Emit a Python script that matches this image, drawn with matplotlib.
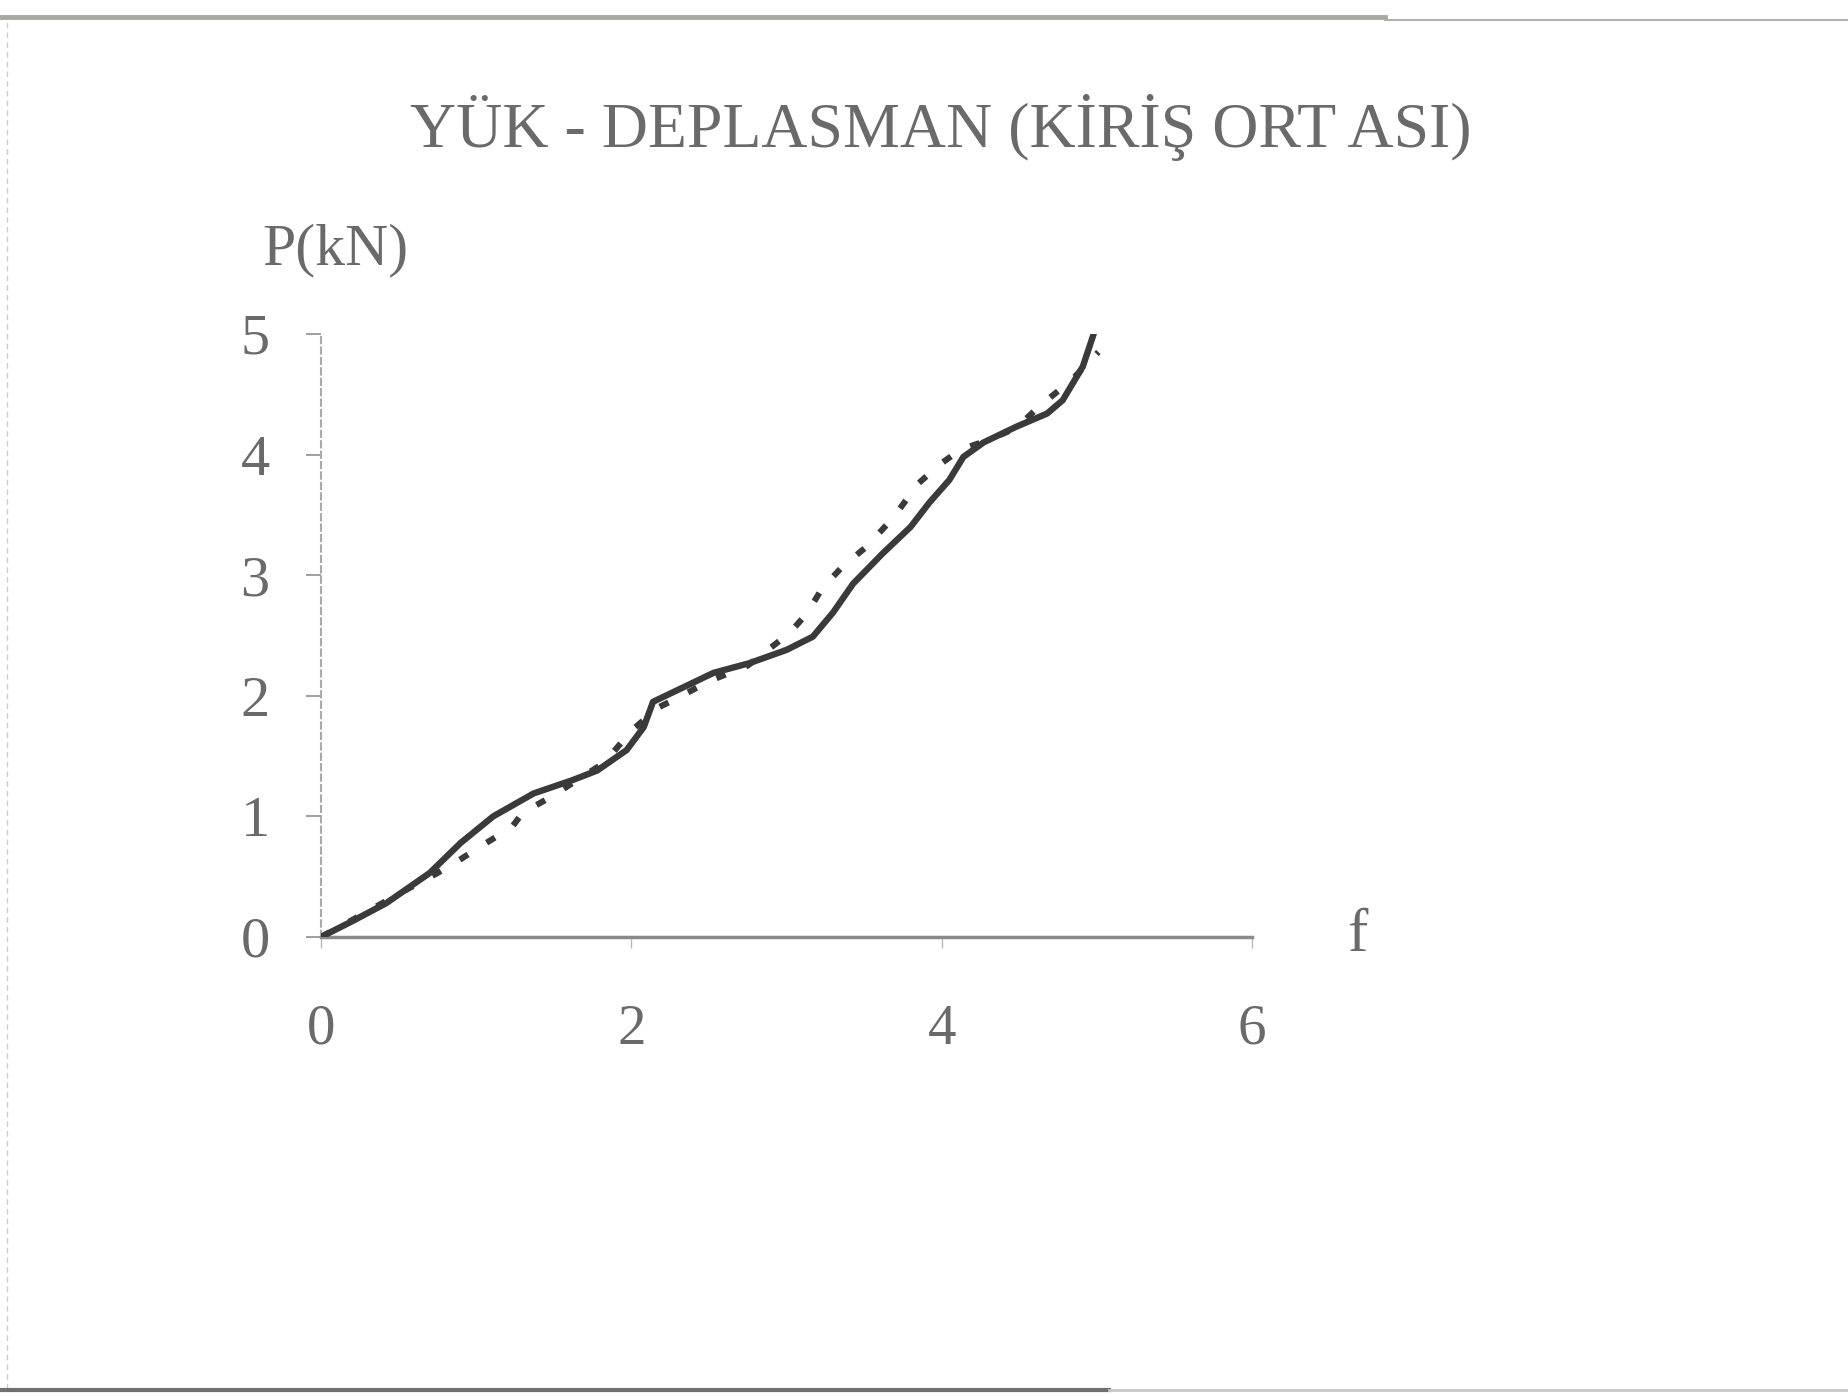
import matplotlib.pyplot as plt
from matplotlib.lines import Line2D

# load - deflection at mid-span
f_solid = [0.0, 0.20, 0.42, 0.70, 0.90, 1.11, 1.37, 1.62, 1.78, 1.97, 2.08, 2.14,
           2.27, 2.53, 2.76, 3.00, 3.17, 3.30, 3.43, 3.62, 3.80, 3.92, 4.05, 4.14,
           4.27, 4.48, 4.68, 4.78, 4.91, 4.98]
p_solid = [0.0, 0.13, 0.28, 0.53, 0.78, 1.00, 1.19, 1.30, 1.38, 1.55, 1.74, 1.95,
           2.03, 2.19, 2.27, 2.38, 2.49, 2.69, 2.93, 3.18, 3.40, 3.60, 3.79, 3.98,
           4.10, 4.23, 4.34, 4.45, 4.73, 5.00]

f_dotted = [0.0, 0.20, 0.38, 0.59, 0.75, 0.87, 1.04, 1.23, 1.30, 1.48, 1.65, 1.82,
            2.01, 2.17, 2.31, 2.50, 2.75, 2.89, 3.02, 3.13, 3.23, 3.36, 3.52, 3.69,
            3.85, 3.98, 4.12, 4.30, 4.48, 4.63, 4.84, 5.01]
p_dotted = [0.0, 0.14, 0.27, 0.42, 0.53, 0.62, 0.76, 0.91, 1.03, 1.16, 1.30, 1.44,
            1.72, 1.90, 1.99, 2.12, 2.25, 2.39, 2.52, 2.68, 2.89, 3.07, 3.24, 3.48,
            3.76, 3.91, 4.04, 4.12, 4.22, 4.40, 4.62, 4.85]

x_ticks = [0, 2, 4, 6]
y_ticks = [0, 1, 2, 3, 4, 5]

title = "YÜK - DEPLASMAN (KİRİŞ ORT ASI)"

plt.rcParams["font.family"] = ["Liberation Serif", "DejaVu Serif"]
text_col = "#6a6a6a"
line_col = "#3a3a3a"

fig = plt.figure(figsize=(18.49, 13.96), dpi=100)
ax = fig.add_axes([0.1736, 0.3288, 0.5035, 0.432])

ax.plot(f_solid, p_solid, color=line_col, lw=4.6, solid_capstyle="round",
        solid_joinstyle="round", zorder=4)
ax.plot(f_dotted, p_dotted, color=line_col, lw=4.4, ls=(0, (1.6, 3.6)), zorder=3)

ax.set_xlim(0, 6)
ax.set_ylim(0, 5)
ax.set_xticks(x_ticks)
ax.set_yticks(y_ticks)

for side in ["top", "right"]:
    ax.spines[side].set_visible(False)
ax.spines["left"].set_color("#aaaaaa")
ax.spines["left"].set_linewidth(1.5)
ax.spines["left"].set_linestyle((0, (3, 2)))
ax.spines["bottom"].set_color("#8a8a8a")
ax.spines["bottom"].set_linewidth(2.5)

ax.tick_params(axis="y", direction="out", length=11, width=1.3, color="#999999",
               pad=26, labelsize=42, labelcolor=text_col)
ax.tick_params(axis="x", direction="out", length=8, width=1.0, color="#bbbbbb",
               pad=40, labelsize=41, labelcolor=text_col)

fig.text(0.509, 0.909, title, ha="center", va="center", fontsize=46, color=text_col)
fig.text(0.142, 0.821, "P(kN)", ha="left", va="center", fontsize=43, color=text_col)
fig.text(0.734, 0.329, "f", ha="center", va="center", fontsize=44, color=text_col)

# scanned page frame
fig.add_artist(Line2D([0.0, 0.749], [0.988, 0.988], transform=fig.transFigure,
                      color="#a8a8a0", lw=3.5))
fig.add_artist(Line2D([0.749, 1.0], [0.986, 0.986], transform=fig.transFigure,
                      color="#b0b0b0", lw=1.5))
fig.add_artist(Line2D([0.004, 0.004], [0.005, 0.986], transform=fig.transFigure,
                      color="#cccccc", lw=1.0, ls=(0, (4, 3))))
fig.add_artist(Line2D([0.0, 0.6], [0.004, 0.004], transform=fig.transFigure,
                      color="#707070", lw=3.0))
fig.add_artist(Line2D([0.6, 1.0], [0.004, 0.004], transform=fig.transFigure,
                      color="#c8c8c8", lw=2.0))

fig.savefig("out.png", dpi=100, facecolor="white")
